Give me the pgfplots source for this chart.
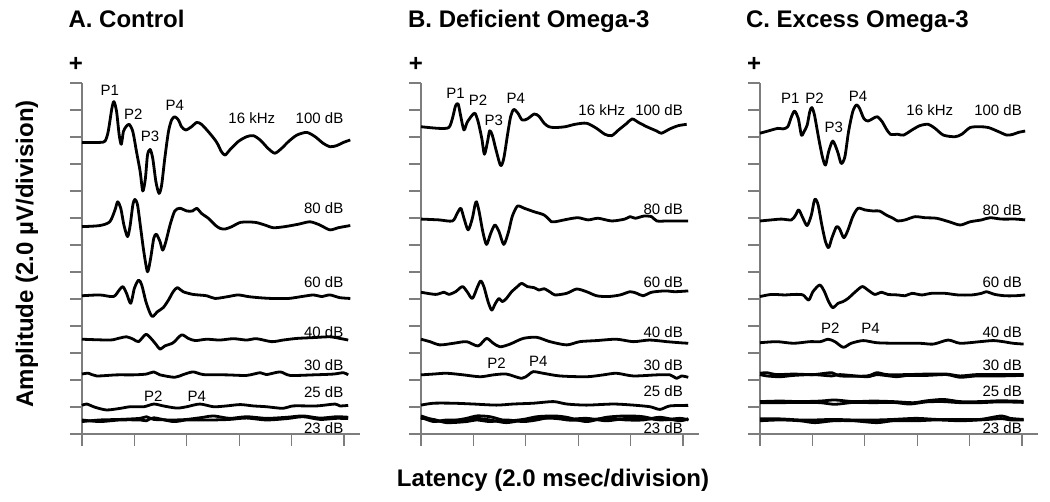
\documentclass[border=0pt]{standalone}
\usepackage{pgfplots}
\pgfplotsset{compat=1.18}
\usepackage{fontspec}
\setmainfont{Liberation Sans}
\definecolor{axisgray}{RGB}{125,125,125}

% one panel: x in divisions (2 ms each), y in divisions (2 uV each)
\pgfplotsset{
  abr/.style={
    anchor=origin,
    x=52.4pt, y=27pt,
    xmin=0, xmax=5.3, ymin=0, ymax=13,
    axis lines=left,
    axis line style={-, draw=axisgray, line width=1.2pt},
    tick style={draw=axisgray, line width=1.2pt},
    tick align=outside,
    major tick length=12pt,
    xtick={0,...,5}, ytick={0,...,13},
    xticklabel=\empty, yticklabel=\empty,
    clip=false,
    cycle list={{black, solid}},
    every axis plot post/.append style={black, solid, line width=2.8pt, smooth, tension=0.45,
      line join=round, no markers},
  },
}
\tikzset{
  lab/.style={font=\fontsize{15}{17}\selectfont, inner sep=0pt},
  ttl/.style={font=\fontsize{24}{28}\selectfont\bfseries, inner sep=0pt},
}

\begin{document}
\begin{tikzpicture}
\useasboundingbox (0,0) rectangle (1050pt,501pt);

%% ---------------- A. Control ----------------
\begin{axis}[abr, at={(82pt,67pt)}]
\addplot coordinates {(0,10.80) (0.34,10.80) (0.44,10.85) (0.50,11.20) (0.57,12.06) (0.61,12.31) (0.66,11.94) (0.71,11.07) (0.75,10.73) (0.79,11.20) (0.84,11.38) (0.90,11.47) (0.97,11.20) (1.04,10.46) (1.11,9.72) (1.16,9.00) (1.21,9.47) (1.25,10.33) (1.30,10.54) (1.35,10.21) (1.41,9.35) (1.47,8.91) (1.52,9.22) (1.58,10.21) (1.65,11.20) (1.71,11.63) (1.77,11.75) (1.84,11.63) (1.90,11.38) (1.98,11.26) (2.09,11.38) (2.19,11.54) (2.28,11.47) (2.41,11.20) (2.54,10.89) (2.60,10.70) (2.66,10.46) (2.73,10.33) (2.82,10.52) (2.98,10.83) (3.14,11.01) (3.27,11.05) (3.40,10.89) (3.55,10.58) (3.68,10.40) (3.81,10.58) (3.94,10.83) (4.10,11.07) (4.29,11.17) (4.45,11.01) (4.60,10.77) (4.73,10.64) (4.86,10.68) (4.99,10.80) (5.12,10.89)};
\addplot coordinates {(0,7.68) (0.34,7.72) (0.53,7.86) (0.63,8.30) (0.68,8.60) (0.74,8.36) (0.80,7.74) (0.87,7.31) (0.92,7.74) (0.97,8.48) (1.01,8.69) (1.06,8.48) (1.12,7.62) (1.18,6.75) (1.25,6.01) (1.31,6.51) (1.37,7.25) (1.42,7.40) (1.49,7.12) (1.54,6.81) (1.60,7.12) (1.68,7.74) (1.77,8.26) (1.87,8.36) (2.00,8.26) (2.11,8.26) (2.19,8.36) (2.28,8.17) (2.41,7.99) (2.54,7.74) (2.63,7.62) (2.73,7.59) (2.86,7.68) (3.03,7.84) (3.30,7.84) (3.49,7.74) (3.65,7.64) (3.87,7.68) (4.13,7.77) (4.35,7.86) (4.54,7.74) (4.73,7.56) (4.89,7.64) (5.12,7.72)};
\addplot coordinates {(0,5.12) (0.34,5.15) (0.60,5.09) (0.71,5.33) (0.78,5.46) (0.85,5.21) (0.93,4.84) (1.00,5.40) (1.08,5.70) (1.14,5.52) (1.22,4.90) (1.30,4.47) (1.35,4.35) (1.44,4.53) (1.55,4.68) (1.65,4.96) (1.74,5.27) (1.82,5.42) (1.93,5.27) (2.12,5.17) (2.38,5.12) (2.54,5.02) (2.79,5.09) (2.98,5.15) (3.17,5.09) (3.37,5.05) (3.62,5.02) (3.94,5.02) (4.19,5.09) (4.42,5.15) (4.57,5.09) (4.73,5.15) (4.92,5.05) (5.12,5.02)};
\addplot coordinates {(0,3.51) (0.53,3.48) (0.69,3.54) (0.85,3.60) (0.98,3.51) (1.08,3.42) (1.22,3.69) (1.33,3.51) (1.42,3.30) (1.49,3.14) (1.58,3.26) (1.74,3.38) (1.90,3.67) (2.03,3.54) (2.16,3.46) (2.38,3.51) (2.63,3.48) (2.89,3.53) (3.14,3.48) (3.33,3.53) (3.62,3.42) (3.84,3.48) (4.10,3.54) (4.41,3.57) (4.73,3.60) (4.92,3.54) (5.08,3.48)};
\addplot coordinates {(0,2.22) (0.12,2.25) (0.28,2.15) (0.66,2.19) (0.98,2.19) (1.23,2.22) (1.37,2.30) (1.49,2.19) (1.77,2.10) (1.93,2.20) (2.12,2.30) (2.32,2.20) (2.76,2.19) (3.14,2.17) (3.40,2.27) (3.52,2.20) (3.78,2.30) (3.97,2.17) (4.41,2.19) (4.80,2.22) (4.99,2.27) (5.08,2.19)};
\addplot coordinates {(0,1.06) (0.09,1.11) (0.25,0.99) (0.47,0.89) (0.73,0.95) (0.92,1.01) (1.18,1.01) (1.37,1.11) (1.55,1.04) (1.81,0.96) (2.00,1.01) (2.25,1.11) (2.51,1.01) (2.76,1.04) (3.02,1.09) (3.27,1.04) (3.52,1.01) (3.84,0.95) (4.03,1.04) (4.48,1.04) (4.83,1.11) (4.92,1.04) (5.08,1.06)};
\addplot coordinates {(0,0.46) (0.34,0.52) (0.73,0.54) (1.11,0.58) (1.23,0.64) (1.37,0.54) (1.74,0.52) (2.00,0.54) (2.32,0.62) (2.51,0.67) (2.82,0.58) (3.14,0.64) (3.52,0.58) (3.91,0.62) (4.22,0.67) (4.54,0.59) (4.86,0.64) (5.08,0.62)};
\addplot coordinates {(0,0.52) (0.34,0.46) (0.73,0.52) (1.11,0.52) (1.23,0.49) (1.37,0.60) (1.74,0.46) (2.00,0.52) (2.32,0.52) (2.51,0.52) (2.82,0.54) (3.14,0.59) (3.52,0.52) (3.91,0.57) (4.22,0.64) (4.54,0.54) (4.86,0.58) (5.08,0.57)};
\node[ttl, anchor=base west] at (axis cs:-0.26,15.04) {A. Control};
\node[ttl, anchor=center] at (axis cs:-0.115,13.67) {+};
\node[lab] at (axis cs:0.53,12.74) {P1};
\node[lab] at (axis cs:0.98,11.85) {P2};
\node[lab] at (axis cs:1.30,11.01) {P3};
\node[lab] at (axis cs:1.77,12.19) {P4};
\node[lab] at (axis cs:3.24,11.69) {16 kHz};
\node[lab, anchor=east] at (axis cs:4.99,11.69) {100 dB};
\node[lab, anchor=east] at (axis cs:4.99,8.36) {80 dB};
\node[lab, anchor=east] at (axis cs:4.99,5.64) {60 dB};
\node[lab, anchor=east] at (axis cs:4.99,3.77) {40 dB};
\node[lab, anchor=east] at (axis cs:4.99,2.54) {30 dB};
\node[lab, anchor=east] at (axis cs:4.99,1.55) {25 dB};
\node[lab, anchor=east] at (axis cs:4.99,0.21) {23 dB};
\node[lab] at (axis cs:1.36,1.41) {P2};
\node[lab] at (axis cs:2.19,1.41) {P4};
\node[ttl, rotate=90, anchor=base] at (axis cs:-0.935,6.67) {Amplitude (2.0 µV/division)};
\end{axis}

%% ---------------- B. Deficient Omega-3 ----------------
\begin{axis}[abr, at={(421pt,67pt)}]
\addplot coordinates {(0,11.38) (0.34,11.32) (0.53,11.35) (0.60,11.69) (0.66,12.16) (0.71,12.22) (0.76,11.75) (0.82,11.26) (0.88,11.54) (0.97,11.79) (1.03,11.88) (1.09,11.57) (1.16,10.95) (1.21,10.36) (1.27,10.83) (1.31,11.23) (1.36,11.07) (1.44,10.46) (1.52,9.94) (1.58,10.21) (1.65,11.07) (1.71,11.75) (1.77,12.02) (1.85,11.88) (1.93,11.63) (2.03,11.67) (2.16,11.85) (2.25,11.77) (2.35,11.51) (2.44,11.38) (2.56,11.35) (2.75,11.38) (2.94,11.47) (3.16,11.51) (3.35,11.32) (3.51,11.10) (3.64,11.05) (3.77,11.26) (3.93,11.51) (4.03,11.67) (4.15,11.54) (4.31,11.38) (4.50,11.22) (4.59,11.14) (4.75,11.30) (4.91,11.42) (5.07,11.47)};
\addplot coordinates {(0,7.96) (0.34,7.93) (0.60,7.89) (0.69,8.17) (0.76,8.36) (0.82,7.99) (0.90,7.56) (0.98,7.99) (1.03,8.48) (1.06,8.60) (1.11,8.23) (1.18,7.49) (1.25,7.02) (1.33,7.43) (1.41,7.74) (1.49,7.49) (1.58,7.02) (1.67,7.49) (1.74,8.05) (1.84,8.44) (1.97,8.36) (2.16,8.23) (2.35,8.11) (2.49,7.86) (2.56,7.86) (2.81,7.96) (3.00,8.01) (3.19,7.93) (3.38,7.99) (3.64,7.89) (3.89,7.96) (3.99,8.05) (4.09,7.99) (4.25,8.07) (4.40,8.05) (4.50,7.89) (4.72,7.89) (5.10,7.89)};
\addplot coordinates {(0,5.25) (0.28,5.17) (0.44,5.25) (0.53,5.17) (0.66,5.27) (0.79,5.46) (0.88,5.27) (0.98,5.02) (1.08,5.46) (1.14,5.67) (1.20,5.46) (1.28,4.90) (1.35,4.59) (1.42,4.84) (1.49,5.02) (1.55,4.90) (1.63,5.02) (1.73,5.27) (1.84,5.46) (1.92,5.58) (2.03,5.46) (2.16,5.42) (2.25,5.33) (2.35,5.38) (2.47,5.25) (2.56,5.15) (2.78,5.21) (2.97,5.37) (3.16,5.27) (3.35,5.12) (3.57,5.09) (3.80,5.15) (3.99,5.27) (4.12,5.21) (4.24,5.12) (4.40,5.25) (4.66,5.30) (4.85,5.27) (5.10,5.30)};
\addplot coordinates {(0,3.51) (0.17,3.42) (0.36,3.30) (0.62,3.36) (0.87,3.42) (1.09,3.26) (1.25,3.54) (1.38,3.36) (1.51,3.23) (1.70,3.33) (1.95,3.54) (2.21,3.58) (2.46,3.42) (2.78,3.30) (3.03,3.42) (3.35,3.46) (3.73,3.51) (4.05,3.42) (4.36,3.48) (4.69,3.42) (4.94,3.38) (5.10,3.36)};
\addplot coordinates {(0,2.19) (0.24,2.22) (0.49,2.25) (0.81,2.19) (1.13,2.12) (1.38,2.19) (1.63,2.22) (1.92,2.06) (2.05,2.19) (2.14,2.31) (2.33,2.25) (2.65,2.15) (3.16,2.12) (3.48,2.19) (3.73,2.25) (4.05,2.15) (4.50,2.19) (4.75,2.19) (4.88,2.06) (4.97,2.15) (5.10,2.10)};
\addplot coordinates {(0,1.07) (0.24,1.14) (0.62,1.14) (1.00,1.11) (1.44,1.07) (1.76,1.11) (2.14,1.14) (2.53,1.20) (2.78,1.11) (3.16,1.07) (3.67,1.11) (4.05,1.07) (4.37,1.01) (4.56,0.91) (4.75,1.04) (5.10,1.06)};
\addplot coordinates {(0,0.67) (0.24,0.52) (0.49,0.46) (0.87,0.58) (1.06,0.67) (1.32,0.64) (1.63,0.49) (1.95,0.54) (2.21,0.64) (2.53,0.67) (2.78,0.62) (3.16,0.46) (3.54,0.62) (3.92,0.67) (4.24,0.64) (4.56,0.52) (4.94,0.58) (5.10,0.52)};
\addplot coordinates {(0,0.62) (0.24,0.46) (0.49,0.52) (0.87,0.52) (1.06,0.58) (1.32,0.52) (1.63,0.42) (1.95,0.52) (2.21,0.58) (2.53,0.58) (2.78,0.54) (3.16,0.58) (3.54,0.49) (3.92,0.58) (4.24,0.57) (4.56,0.54) (4.94,0.52) (5.10,0.54)};
\addplot coordinates {(0,0.58) (0.24,0.54) (0.49,0.42) (0.87,0.46) (1.06,0.52) (1.32,0.46) (1.63,0.52) (1.95,0.46) (2.21,0.52) (2.53,0.64) (2.78,0.52) (3.16,0.52) (3.54,0.58) (3.92,0.52) (4.24,0.52) (4.56,0.62) (4.94,0.49) (5.10,0.57)};
\node[ttl, anchor=base west] at (axis cs:-0.25,15.04) {B. Deficient Omega-3};
\node[ttl, anchor=center] at (axis cs:-0.10,13.67) {+};
\node[lab] at (axis cs:0.66,12.62) {P1};
\node[lab] at (axis cs:1.09,12.37) {P2};
\node[lab] at (axis cs:1.39,11.63) {P3};
\node[lab] at (axis cs:1.81,12.43) {P4};
\node[lab] at (axis cs:3.45,12.00) {16 kHz};
\node[lab, anchor=east] at (axis cs:5.0,12.00) {100 dB};
\node[lab, anchor=east] at (axis cs:5.0,8.33) {80 dB};
\node[lab, anchor=east] at (axis cs:5.0,5.64) {60 dB};
\node[lab, anchor=east] at (axis cs:5.0,3.79) {40 dB};
\node[lab, anchor=east] at (axis cs:5.0,2.56) {30 dB};
\node[lab, anchor=east] at (axis cs:5.0,1.57) {25 dB};
\node[lab, anchor=east] at (axis cs:5.0,0.21) {23 dB};
\node[lab] at (axis cs:1.44,2.62) {P2};
\node[lab] at (axis cs:2.24,2.68) {P4};
\node[ttl, anchor=base] at (axis cs:2.52,-1.96) {Latency (2.0 msec/division)};
\end{axis}

%% ---------------- C. Excess Omega-3 ----------------
\begin{axis}[abr, at={(760pt,67pt)}]
\addplot coordinates {(0,11.14) (0.15,11.22) (0.34,11.32) (0.44,11.30) (0.53,11.38) (0.60,11.75) (0.66,11.96) (0.73,11.69) (0.79,11.07) (0.84,11.20) (0.90,11.44) (0.95,11.94) (0.99,12.09) (1.04,11.81) (1.12,10.95) (1.19,10.27) (1.25,9.96) (1.31,10.46) (1.39,10.85) (1.48,10.46) (1.55,10.02) (1.62,10.27) (1.69,11.20) (1.77,11.94) (1.84,12.19) (1.90,12.06) (1.98,11.69) (2.06,11.59) (2.16,11.69) (2.24,11.75) (2.33,11.57) (2.41,11.30) (2.49,11.10) (2.63,11.10) (2.74,11.07) (2.90,11.26) (3.05,11.42) (3.21,11.47) (3.34,11.32) (3.50,11.07) (3.72,11.01) (3.85,11.10) (4.01,11.35) (4.20,11.38) (4.36,11.35) (4.55,11.20) (4.71,11.07) (4.83,11.10) (4.93,11.17) (5.06,11.22)};
\addplot coordinates {(0,7.89) (0.22,7.93) (0.41,7.96) (0.60,7.93) (0.68,8.11) (0.74,8.30) (0.82,7.99) (0.90,7.72) (0.98,8.11) (1.03,8.60) (1.06,8.70) (1.11,8.48) (1.18,7.74) (1.25,7.12) (1.31,6.90) (1.37,7.25) (1.46,7.68) (1.52,7.59) (1.60,7.27) (1.68,7.56) (1.77,8.05) (1.87,8.36) (2.00,8.30) (2.16,8.26) (2.28,8.26) (2.41,8.11) (2.54,7.99) (2.63,7.89) (2.77,7.93) (2.96,8.05) (3.15,8.01) (3.37,7.99) (3.61,7.86) (3.82,7.74) (4.01,7.86) (4.23,7.93) (4.39,8.01) (4.61,7.96) (4.87,7.96) (5.06,7.93)};
\addplot coordinates {(0,5.09) (0.22,5.17) (0.47,5.15) (0.66,5.17) (0.82,5.15) (0.93,4.96) (1.01,5.27) (1.14,5.52) (1.23,5.27) (1.31,4.90) (1.39,4.68) (1.49,4.84) (1.58,4.90) (1.68,5.02) (1.81,5.25) (1.95,5.46) (2.06,5.33) (2.19,5.17) (2.32,5.25) (2.44,5.17) (2.63,5.15) (2.77,5.12) (2.90,5.21) (3.09,5.15) (3.27,5.21) (3.53,5.21) (3.78,5.15) (4.04,5.15) (4.23,5.21) (4.32,5.27) (4.48,5.17) (4.67,5.12) (4.87,5.12) (5.06,5.15)};
\addplot coordinates {(0,3.38) (0.32,3.42) (0.64,3.36) (0.95,3.42) (1.15,3.42) (1.30,3.51) (1.43,3.42) (1.59,3.21) (1.74,3.36) (1.97,3.46) (2.23,3.38) (2.61,3.36) (3.05,3.36) (3.31,3.33) (3.59,3.48) (3.82,3.36) (4.20,3.42) (4.45,3.46) (4.64,3.42) (4.83,3.36) (5.03,3.33)};
\addplot coordinates {(0,2.25) (0.13,2.27) (0.32,2.20) (0.64,2.22) (1.02,2.20) (1.37,2.27) (1.53,2.15) (2.04,2.15) (2.23,2.27) (2.42,2.20) (2.80,2.20) (3.18,2.22) (3.56,2.22) (3.82,2.15) (4.13,2.20) (4.58,2.20) (5.03,2.20)};
\addplot coordinates {(0,2.20) (0.13,2.15) (0.38,2.12) (0.64,2.17) (1.02,2.20) (1.37,2.15) (1.53,2.20) (2.04,2.12) (2.23,2.20) (2.61,2.12) (2.80,2.17) (3.18,2.17) (3.56,2.20) (3.82,2.10) (4.13,2.15) (4.58,2.15) (5.03,2.17)};
\addplot coordinates {(0,1.20) (0.38,1.22) (0.76,1.20) (1.15,1.22) (1.43,1.26) (1.78,1.20) (2.16,1.22) (2.54,1.20) (2.93,1.16) (3.18,1.23) (3.50,1.28) (3.82,1.20) (4.20,1.20) (4.58,1.23) (5.03,1.21)};
\addplot coordinates {(0,1.16) (0.38,1.16) (0.76,1.17) (1.15,1.16) (1.43,1.10) (1.78,1.17) (2.16,1.16) (2.54,1.17) (2.86,1.11) (3.18,1.19) (3.50,1.20) (3.82,1.16) (4.20,1.16) (4.58,1.19) (5.03,1.17)};
\addplot coordinates {(0,0.56) (0.38,0.56) (0.76,0.52) (1.05,0.52) (1.40,0.54) (1.78,0.52) (2.23,0.52) (2.54,0.54) (2.99,0.58) (3.37,0.54) (3.82,0.54) (4.20,0.54) (4.61,0.67) (4.77,0.58) (5.03,0.54)};
\addplot coordinates {(0,0.49) (0.38,0.52) (0.76,0.49) (1.05,0.42) (1.40,0.49) (1.78,0.49) (2.23,0.42) (2.54,0.49) (2.99,0.49) (3.37,0.52) (3.82,0.49) (4.20,0.52) (4.61,0.57) (4.77,0.52) (5.03,0.52)};
\node[ttl, anchor=base west] at (axis cs:-0.27,15.04) {C. Excess Omega-3};
\node[ttl, anchor=center] at (axis cs:-0.11,13.67) {+};
\node[lab] at (axis cs:0.58,12.43) {P1};
\node[lab] at (axis cs:1.04,12.43) {P2};
\node[lab] at (axis cs:1.41,11.35) {P3};
\node[lab] at (axis cs:1.87,12.49) {P4};
\node[lab] at (axis cs:3.24,12.00) {16 kHz};
\node[lab, anchor=east] at (axis cs:5.0,12.00) {100 dB};
\node[lab, anchor=east] at (axis cs:5.0,8.30) {80 dB};
\node[lab, anchor=east] at (axis cs:5.0,5.64) {60 dB};
\node[lab, anchor=east] at (axis cs:5.0,3.79) {40 dB};
\node[lab, anchor=east] at (axis cs:5.0,2.56) {30 dB};
\node[lab, anchor=east] at (axis cs:5.0,1.57) {25 dB};
\node[lab, anchor=east] at (axis cs:5.0,0.21) {23 dB};
\node[lab] at (axis cs:1.34,3.91) {P2};
\node[lab] at (axis cs:2.11,3.91) {P4};
\end{axis}
\end{tikzpicture}
\end{document}
